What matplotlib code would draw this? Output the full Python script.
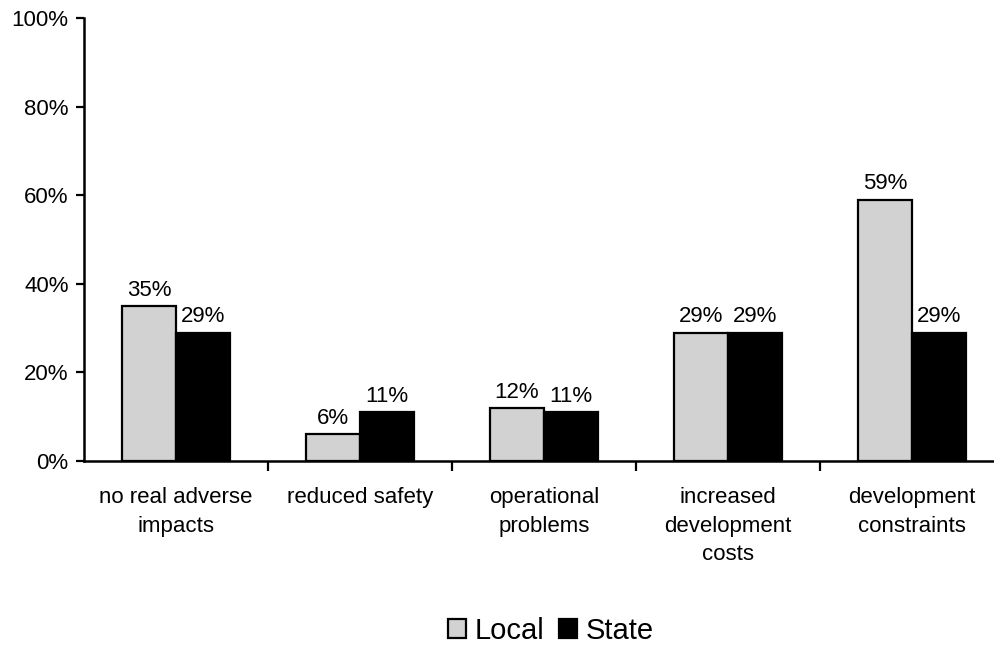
import matplotlib.pyplot as plt
from matplotlib.ticker import FixedLocator, PercentFormatter
import numpy as np

plt.rcParams['font.family'] = ['Liberation Sans', 'DejaVu Sans']

categories = ["no real adverse\nimpacts", "reduced safety", "operational\nproblems",
              "increased\ndevelopment\ncosts", "development\nconstraints"]
local = [35, 6, 12, 29, 59]
state = [29, 11, 11, 29, 29]

fig = plt.figure(figsize=(9.95, 6.51), dpi=100)
ax = fig.add_axes([84 / 995, 1 - 461 / 651, (995 - 84) / 995, (461 - 18) / 651])

x = np.arange(len(categories))
w = 0.293
b1 = ax.bar(x - w / 2, local, w, color="#d2d2d2", edgecolor="black", linewidth=1.6, label="Local")
b2 = ax.bar(x + w / 2, state, w, color="black", edgecolor="black", linewidth=1.6, label="State")

for bars, vals in ((b1, local), (b2, state)):
    for r, v in zip(bars, vals):
        ax.text(r.get_x() + r.get_width() / 2, v + 1.2, f"{v}%", ha="center", va="bottom", fontsize=16)

ax.set_ylim(0, 100)
ax.set_xlim(-0.5, -0.5 + (995 - 84) / 184)
ax.set_yticks(range(0, 101, 20))
ax.yaxis.set_major_formatter(PercentFormatter(decimals=0))
ax.set_xticks(x)
ax.set_xticklabels(categories, fontsize=16, linespacing=1.45, va="top")
ax.xaxis.set_minor_locator(FixedLocator(x[:-1] + 0.5))
ax.tick_params(axis="x", which="major", length=0, pad=19)
ax.tick_params(axis="x", which="minor", length=7, width=1.6, direction="out")
ax.tick_params(axis="y", length=6, width=1.6, labelsize=16, pad=5)

for s in ("top", "right"):
    ax.spines[s].set_visible(False)
for s in ("left", "bottom"):
    ax.spines[s].set_linewidth(1.8)

fig.legend(handles=[b1, b2], labels=["Local", "State"], loc="center", bbox_to_anchor=(551 / 995, 1 - 631 / 651),
           ncol=2, frameon=False, fontsize=21, handlelength=0.62, handleheight=0.62,
           handletextpad=0.28, columnspacing=0.52, borderpad=0)

fig.savefig("out.png", dpi=100)
